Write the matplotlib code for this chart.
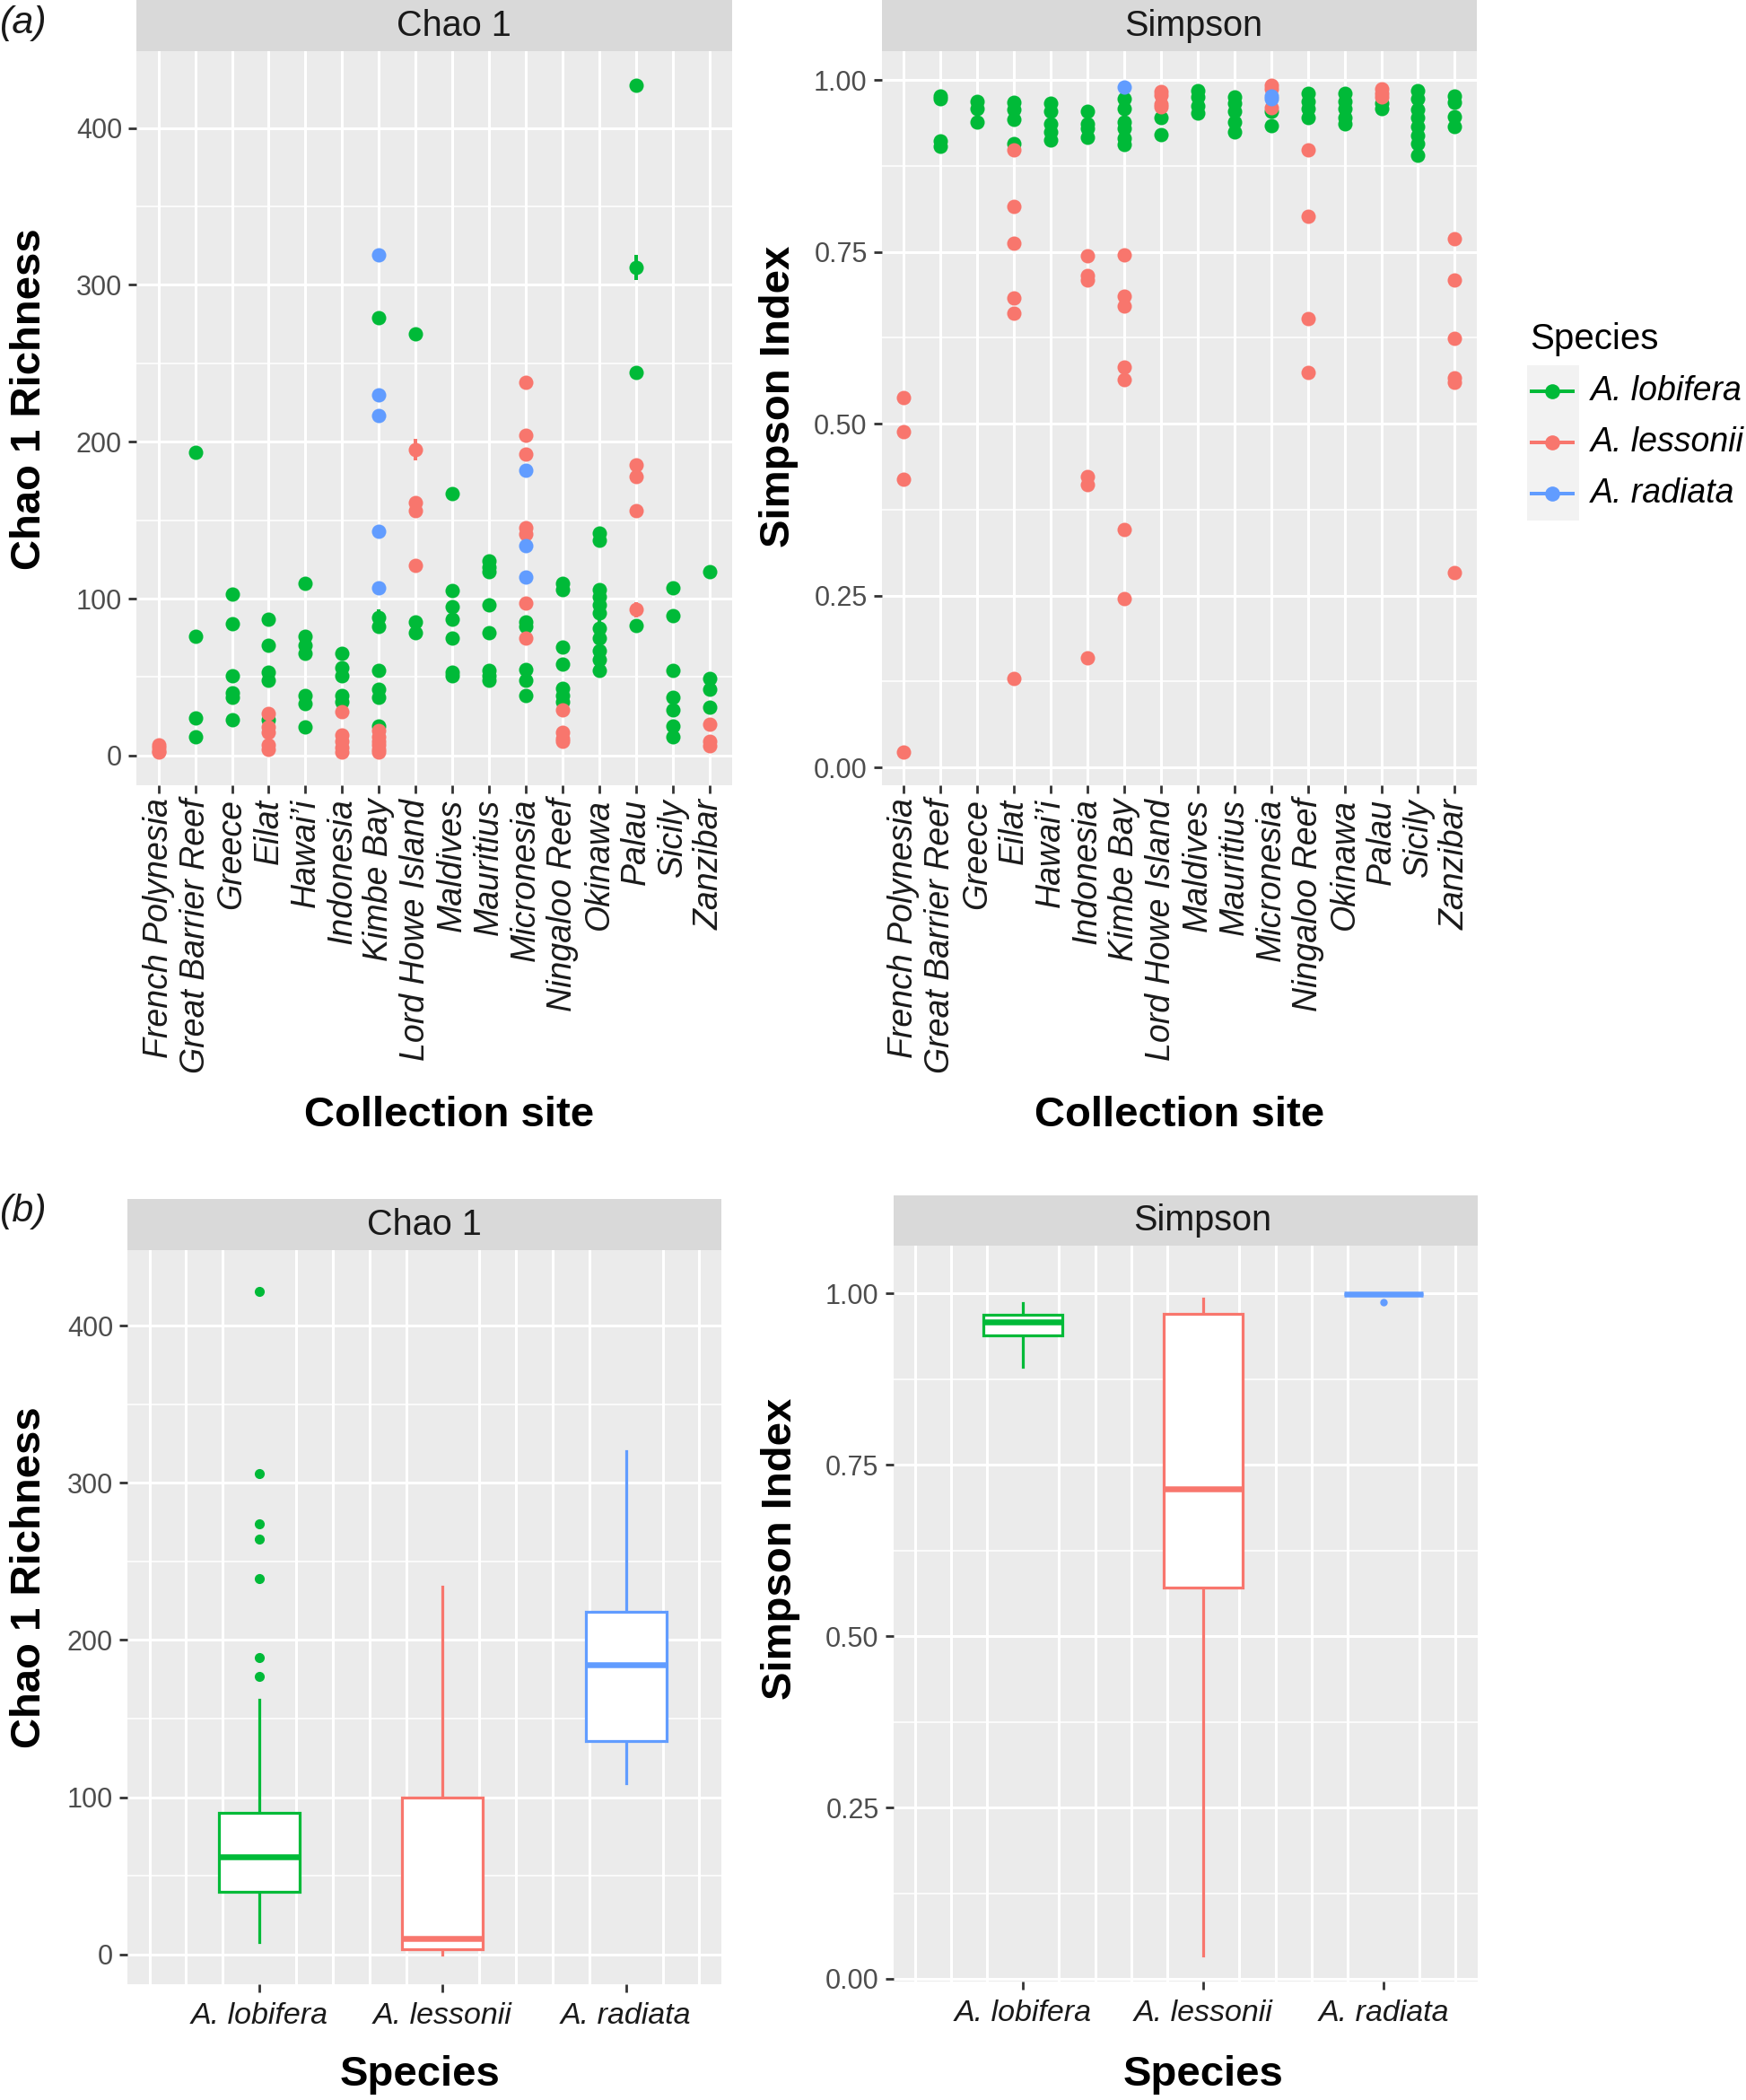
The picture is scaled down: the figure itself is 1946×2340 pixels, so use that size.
import matplotlib
matplotlib.use("Agg")
import matplotlib.pyplot as plt
from matplotlib.ticker import FixedLocator
from matplotlib.patches import Rectangle
from matplotlib.lines import Line2D

# ---------------- data ----------------
sites = ["French Polynesia", "Great Barrier Reef", "Greece", "Eilat", "Hawai\u2019i",
         "Indonesia", "Kimbe Bay", "Lord Howe Island", "Maldives", "Mauritius",
         "Micronesia", "Ningaloo Reef", "Okinawa", "Palau", "Sicily", "Zanzibar"]
species = ["A. lobifera", "A. lessonii", "A. radiata"]
species_colors = ["#00BA38", "#F8766D", "#619CFF"]

# Chao 1 richness per site (lists aligned with `sites`)
chao_lobifera = [[], [193, 76, 24, 12], [103, 84, 51, 40, 37, 23], [87, 70, 53, 48, 23],
                 [110, 76, 70, 65, 38, 33, 18], [65, 56, 51, 38, 34],
                 [279, 88, 82, 54, 42, 37, 19], [269, 85, 78],
                 [167, 105, 95, 87, 75, 53, 51], [124, 120, 117, 96, 78, 54, 51, 48],
                 [85, 82, 55, 48, 38], [110, 106, 69, 58, 43, 38, 34],
                 [142, 137, 106, 101, 96, 91, 81, 75, 67, 61, 54], [427, 311, 244, 83],
                 [107, 89, 54, 37, 29, 19, 12], [117, 49, 42, 31]]
chao_lessonii = [[7, 5, 3, 2], [], [], [27, 18, 15, 7, 4], [], [28, 13, 9, 5, 2],
                 [16, 12, 9, 7, 4, 2], [195, 161, 156, 121], [], [],
                 [238, 204, 192, 145, 141, 97, 75], [29, 15, 11, 9], [],
                 [185, 178, 156, 93], [], [20, 9, 6]]
chao_radiata = [[], [], [], [], [], [], [319, 230, 217, 143, 107], [], [], [],
                [182, 134, 114], [], [], [], [], []]
# visible Chao 1 error bars: (site index, species index, value, half-width)
chao_errors = [(7, 1, 195, 7), (13, 0, 311, 8), (6, 0, 88, 5), (13, 1, 93, 5),
               (12, 0, 91, 10), (8, 0, 53, 4), (9, 0, 117, 4), (13, 1, 181, 5)]

# Simpson index per site
simp_lobifera = [[], [0.977, 0.973, 0.912, 0.904], [0.969, 0.958, 0.939],
                 [0.967, 0.957, 0.943, 0.907], [0.966, 0.954, 0.936, 0.924, 0.913],
                 [0.954, 0.936, 0.930, 0.917], [0.973, 0.958, 0.939, 0.930, 0.915, 0.906],
                 [0.945, 0.921], [0.984, 0.975, 0.962, 0.952],
                 [0.975, 0.966, 0.954, 0.939, 0.924], [0.954, 0.934],
                 [0.981, 0.969, 0.958, 0.945], [0.981, 0.969, 0.958, 0.945, 0.936],
                 [0.966, 0.958], [0.984, 0.973, 0.957, 0.945, 0.932, 0.919, 0.907, 0.891],
                 [0.977, 0.968, 0.947, 0.932]]
simp_lessonii = [[0.538, 0.489, 0.419, 0.022], [], [],
                 [0.898, 0.816, 0.763, 0.683, 0.661, 0.129], [],
                 [0.744, 0.715, 0.709, 0.423, 0.412, 0.159],
                 [0.746, 0.686, 0.671, 0.582, 0.564, 0.346, 0.246],
                 [0.983, 0.978, 0.965, 0.961], [], [], [0.992, 0.987, 0.960],
                 [0.899, 0.802, 0.653, 0.575], [], [0.987, 0.981, 0.975], [],
                 [0.769, 0.709, 0.624, 0.567, 0.560, 0.284]]
simp_radiata = [[], [], [], [], [], [], [0.990], [], [], [], [0.977, 0.973],
                [], [], [], [], []]

# box plot summaries by species (panel b)
chao_box = {"q1": [40, 3, 136], "med": [62, 10, 184], "q3": [90, 100, 218],
            "whislo": [8, 0, 109], "whishi": [162, 234, 320]}
chao_outliers = [[422, 306, 274, 264, 239, 189, 177], [], []]
simp_box = {"q1": [0.939, 0.571, 0.999], "med": [0.959, 0.715, 0.999],
            "q3": [0.969, 0.970, 0.999], "whislo": [0.893, 0.034, 0.999],
            "whishi": [0.986, 0.993, 0.999]}
simp_outliers = [[], [], [0.987]]

# ---------------- style ----------------
FONT = ["Liberation Sans", "DejaVu Sans"]
plt.rcParams["font.family"] = FONT
W, H = 1946, 2340
PANEL_BG = "#EBEBEB"
STRIP_BG = "#D9D9D9"
TICK_TXT = "#4D4D4D"
TICK_COL = "#333333"
PX = 0.72  # points per pixel at dpi 100

fig = plt.figure(figsize=(W / 100, H / 100), dpi=100)


def add_px_axes(l, t, r, b):
    return fig.add_axes([l / W, 1 - b / H, (r - l) / W, (b - t) / H])


def strip(l, t, r, b, label, text_x):
    sa = add_px_axes(l, t, r, b)
    sa.set_facecolor(STRIP_BG)
    sa.set_xticks([]); sa.set_yticks([])
    for s in sa.spines.values():
        s.set_visible(False)
    sa.text((text_x - l) / (r - l), 0.5, label, ha="center", va="center",
            fontsize=28.5, color="#1A1A1A", transform=sa.transAxes)


def style_panel(ax):
    ax.set_facecolor(PANEL_BG)
    for s in ax.spines.values():
        s.set_visible(False)
    ax.set_axisbelow(True)
    ax.tick_params(axis="both", which="major", length=6.5, width=2.0, color=TICK_COL)
    ax.tick_params(axis="y", which="major", labelsize=22, labelcolor=TICK_TXT, pad=5)
    ax.tick_params(axis="both", which="minor", length=0)
    ax.grid(which="major", axis="y", color="white", lw=3 * PX)
    ax.grid(which="minor", axis="y", color="white", lw=1.5 * PX)


# ---------------- panel (a) ----------------
def site_panel(ax, series, ylim, major, minor, ticklabels, errors=None):
    style_panel(ax)
    ax.grid(which="major", axis="x", color="white", lw=3 * PX)
    for vals, col in zip(series, species_colors):
        xs, ys = [], []
        for i, v in enumerate(vals):
            xs += [i] * len(v)
            ys += v
        ax.scatter(xs, ys, s=133, color=col, linewidths=0, zorder=3)
    if errors:
        for si, sp, v, e in errors:
            ax.vlines(si, v - e, v + e, color=species_colors[sp], lw=4 * PX, zorder=3)
    ax.set_xlim(-0.6, len(sites) - 1 + 0.6)
    ax.set_ylim(*ylim)
    ax.yaxis.set_major_locator(FixedLocator(major))
    ax.yaxis.set_minor_locator(FixedLocator(minor))
    ax.set_yticklabels(ticklabels)
    ax.set_xticks(range(len(sites)))
    ax.set_xticklabels(sites, rotation=90, ha="center", va="top", fontsize=27,
                       style="italic", color="#1A1A1A")
    ax.tick_params(axis="x", pad=4)


axA1 = add_px_axes(152, 57, 815.6, 875)
strip(152, 0, 815.6, 57, "Chao 1", 506)
site_panel(axA1, [chao_lobifera, chao_lessonii, chao_radiata], (-19, 449),
           [0, 100, 200, 300, 400], [50, 150, 250, 350],
           ["0", "100", "200", "300", "400"], chao_errors)

axA2 = add_px_axes(982.7, 57, 1646, 875)
strip(982.7, 0, 1646, 57, "Simpson", 1330)
site_panel(axA2, [simp_lobifera, simp_lessonii, simp_radiata], (-0.026, 1.042),
           [0, 0.25, 0.5, 0.75, 1.0], [0.125, 0.375, 0.625, 0.875],
           ["0.00", "0.25", "0.50", "0.75", "1.00"])

# ---------------- panel (b) ----------------
BOX_POS = [3, 8, 13]


def box_panel(ax, box, outliers, ylim, major, minor, ticklabels, fsize):
    style_panel(ax)
    ax.xaxis.set_minor_locator(FixedLocator(range(16)))
    ax.grid(which="minor", axis="x", color="white", lw=3 * PX)
    stats = []
    for i in range(3):
        stats.append({"q1": box["q1"][i], "med": box["med"][i], "q3": box["q3"][i],
                      "whislo": box["whislo"][i], "whishi": box["whishi"][i],
                      "fliers": outliers[i]})
    art = ax.bxp(stats, positions=BOX_POS, widths=2.2, patch_artist=True,
                 showcaps=False, manage_ticks=False)
    for i, col in enumerate(species_colors):
        art["boxes"][i].set(facecolor="white", edgecolor=col, lw=3.2 * PX, zorder=3)
        art["medians"][i].set(color=col, lw=6.5 * PX, zorder=4)
        for w in art["whiskers"][2 * i:2 * i + 2]:
            w.set(color=col, lw=3.2 * PX, zorder=2.5)
        art["fliers"][i].set(marker="o", markerfacecolor=col, markeredgecolor=col,
                             markersize=fsize, zorder=3)
    ax.set_xlim(-0.6, 15.6)
    ax.set_ylim(*ylim)
    ax.yaxis.set_major_locator(FixedLocator(major))
    ax.yaxis.set_minor_locator(FixedLocator(minor))
    ax.set_yticklabels(ticklabels)
    ax.set_xticks(BOX_POS)
    ax.set_xticklabels(species, fontsize=24.5, style="italic", color="#1A1A1A")
    ax.tick_params(axis="x", pad=8)


axB1 = add_px_axes(142, 1393, 804, 2211)
strip(142, 1336, 804, 1393, "Chao 1", 473)
box_panel(axB1, chao_box, chao_outliers, (-19, 448),
          [0, 100, 200, 300, 400], [50, 150, 250, 350],
          ["0", "100", "200", "300", "400"], 7)

axB2 = add_px_axes(995.5, 1388, 1646.6, 2208)
strip(995.5, 1332, 1646.6, 1388, "Simpson", 1340)
box_panel(axB2, simp_box, simp_outliers, (-0.004, 1.07),
          [0, 0.25, 0.5, 0.75, 1.0], [0.125, 0.375, 0.625, 0.875],
          ["0.00", "0.25", "0.50", "0.75", "1.00"], 5)

# ---------------- titles ----------------
def ftext(x, y, s, **kw):
    fig.text(x / W, 1 - y / H, s, **kw)


tkw = dict(fontsize=34, fontweight="bold", color="black", ha="center", va="center")
ftext(33, 445, "Chao 1 Richness", rotation=90, **tkw)
ftext(868, 442, "Simpson Index", rotation=90, **tkw)
ftext(501, 1243, "Collection site", **tkw)
ftext(1315, 1243, "Collection site", **tkw)
ftext(33, 1758, "Chao 1 Richness", rotation=90, **tkw)
ftext(870, 1726, "Simpson Index", rotation=90, **tkw)
ftext(468, 2312, "Species", **tkw)
ftext(1341, 2312, "Species", **tkw)

ftext(0, 6, "(a)", fontsize=31, style="italic", ha="left", va="top", color="#1A1A1A")
ftext(0, 1330, "(b)", fontsize=31, style="italic", ha="left", va="top", color="#1A1A1A")

# ---------------- legend ----------------
ftext(1705, 378, "Species", fontsize=29, ha="left", va="center", color="black")
fig.add_artist(Rectangle((1702 / W, 1 - 580 / H), 58 / W, 173 / H,
                         transform=fig.transFigure, facecolor="#F2F2F2",
                         edgecolor="none"))
for i, (name, col) in enumerate(zip(species, species_colors)):
    y = 436 + 57 * i
    fig.add_artist(Line2D([1707 / W, 1753 / W], [1 - y / H, 1 - y / H],
                          transform=fig.transFigure, color=col, lw=4 * PX))
    fig.add_artist(Line2D([1730 / W], [1 - y / H], transform=fig.transFigure,
                          marker="o", markersize=12, color=col, markeredgewidth=0))
    ftext(1773, y, name, fontsize=27, style="italic", ha="left", va="center",
          color="black")

fig.savefig("out.png", dpi=100, facecolor="white")
